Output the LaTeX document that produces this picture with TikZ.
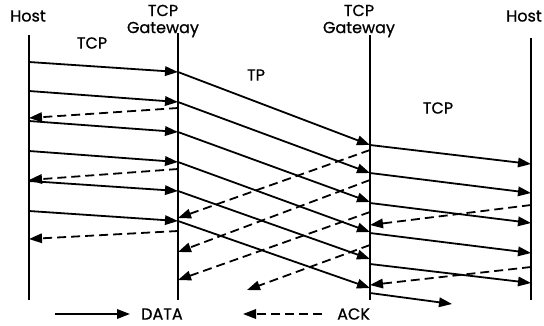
\documentclass[tikz,border=0pt]{standalone}
\usepackage{fontspec}
\setmainfont{Poppins}[FakeBold=0.8]
\usetikzlibrary{arrows.meta}
\begin{document}
\begin{tikzpicture}[x=1pt,y=-1pt,
  lbl/.style={font=\fontsize{16}{17}\selectfont, inner sep=0pt, align=center},
  vline/.style={line width=2pt},
  data/.style={line width=1.8pt, -{Triangle[length=13pt,width=9.5pt]}},
  ack/.style={line width=1.8pt, dash pattern=on 9pt off 5pt, -{Triangle[length=13pt,width=9.5pt]}}]
\useasboundingbox (0,0) rectangle (544,325);
% labels
\node[lbl] (hostL) at (28,16) {Host};
\node[lbl] (gw1) at (163,21) {TCP\\Gateway};
\node[lbl] (gw2) at (359,21) {TCP\\Gateway};
\node[lbl] (hostR) at (524,16) {Host};
\node[lbl] (tcpL) at (92,43) {TCP};
\node[lbl] (tp) at (256,75) {TP};
\node[lbl] (tcpR) at (438,108) {TCP};
% vertical lines
\coordinate (A0) at (29,35);  \coordinate (A1) at (29,300);
\coordinate (B0) at (178,33); \coordinate (B1) at (178,300);
\coordinate (C0) at (370,35); \coordinate (C1) at (370,300);
\coordinate (D0) at (531,38); \coordinate (D1) at (531,300);
\draw[vline] (A0) -- (A1);
\draw[vline] (B0) -- (B1);
\draw[vline] (C0) -- (C1);
\draw[vline] (D0) -- (D1);
% data: host -> gw1
\foreach \i/\ya/\yb in {1/62/72, 2/91/102, 3/121/132, 4/151/162, 5/181/191, 6/211/221} {
  \coordinate (la\i) at (29,\ya);
  \coordinate (lb\i) at (178,\yb);
  \draw[data] (la\i) -- (lb\i);
}
% data: gw1 -> gw2
\foreach \i/\yb in {1/145, 2/173, 3/202, 4/232, 5/259, 6/288} {
  \coordinate (mb\i) at (370,\yb);
  \draw[data] (lb\i) -- (mb\i);
}
% data: gw2 -> host
\foreach \i/\ya/\yb in {1/145/164, 2/173/193, 3/203/223, 4/233/253, 5/264/283} {
  \coordinate (ra\i) at (370,\ya);
  \coordinate (rb\i) at (531,\yb);
  \draw[data] (ra\i) -- (rb\i);
}
\coordinate (ra6) at (370,293);
\coordinate (rb6) at (452,304);
\draw[data] (ra6) -- (rb6);
% acks: gw1 -> host
\foreach \i/\ya/\yb in {1/108/118, 2/169/180, 3/231/239} {
  \coordinate (ka\i) at (178,\ya);
  \coordinate (kb\i) at (29,\yb);
  \draw[ack] (ka\i) -- (kb\i);
}
% acks: gw2 -> gw1
\foreach \i/\ya/\yb in {1/150/218, 2/180/252, 3/212/280} {
  \coordinate (na\i) at (370,\ya);
  \coordinate (nb\i) at (178,\yb);
  \draw[ack] (na\i) -- (nb\i);
}
\coordinate (na4) at (370,245);
\coordinate (nb4) at (247,290);
\draw[ack] (na4) -- (nb4);
% acks: host -> gw2
\foreach \i/\ya/\yb in {1/205/225, 2/267/285} {
  \coordinate (qa\i) at (531,\ya);
  \coordinate (qb\i) at (370,\yb);
  \draw[ack] (qa\i) -- (qb\i);
}
% legend
\coordinate (g1) at (55,314);
\coordinate (g2) at (130,314);
\draw[data] (g1) -- (g2);
\node[lbl, anchor=west] (datatxt) at (141,314) {DATA};
\coordinate (g3) at (322,314);
\coordinate (g4) at (243,314);
\draw[ack] (g3) -- (g4);
\node[lbl, anchor=west] (acktxt) at (337,314) {ACK};
\end{tikzpicture}
\end{document}
